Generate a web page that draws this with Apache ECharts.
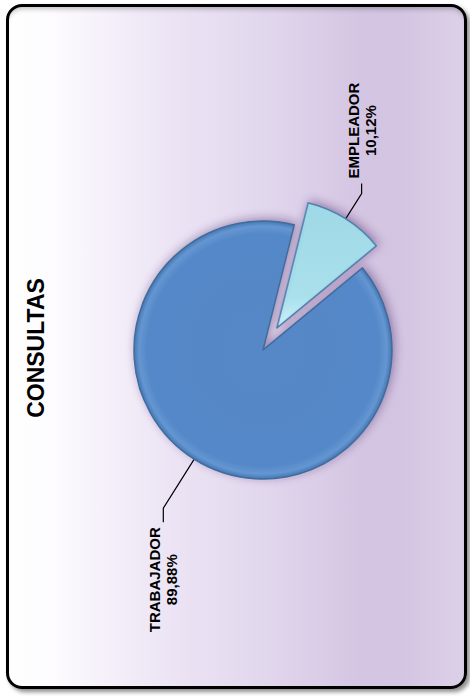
<!DOCTYPE html>
<html>
<head>
<meta charset="utf-8">
<script src="https://cdn.jsdelivr.net/npm/echarts@6/dist/echarts.min.js"></script>
<style>
html,body{margin:0;padding:0;width:470px;height:696px;overflow:hidden;background:#ffffff;}
#frame{position:absolute;left:6px;top:4px;width:455px;height:679px;border:3px solid #000;border-radius:16px;
background:linear-gradient(to right,#ffffff 0%,#fdfbfe 10%,#efe8f6 30%,#e2d8ee 55%,#d4c5e2 78%,#d3c4e1 85%,#dcd0e8 100%);
box-shadow:3px 3px 4px rgba(0,0,0,0.45), inset 0 5px 5px -3px rgba(0,0,0,0.25);}
#chart{position:absolute;left:0;top:0;width:696px;height:470px;transform-origin:0 0;transform:translateY(696px) rotate(-90deg);}
</style>
</head>
<body>
<div id="frame"></div>
<div id="chart"></div>
<script>
const chartTitle = 'CONSULTAS';
const categories = ['EMPLEADOR', 'TRABAJADOR'];
const values = [10.12, 89.88];

const styles = [
  {
    color: new echarts.graphic.LinearGradient(0, 0, 1, 0, [
      {offset: 0, color: '#cdf3fa'},
      {offset: 0.25, color: '#a9e0ec'},
      {offset: 1, color: '#9fd8e6'}
    ]),
    borderColor: '#4f7fae', borderWidth: 1.5,
    shadowBlur: 10, shadowColor: 'rgba(70,40,100,0.45)', shadowOffsetX: 2, shadowOffsetY: 2
  },
  {
    color: new echarts.graphic.RadialGradient(0.5, 0.5, 0.5, [
      {offset: 0, color: '#5687c6'},
      {offset: 0.9, color: '#5588c8'},
      {offset: 0.96, color: '#6496d2'},
      {offset: 1, color: '#4677b2'}
    ]),
    borderColor: '#3f6c9e', borderWidth: 1.5,
    shadowBlur: 10, shadowColor: 'rgba(70,40,100,0.45)', shadowOffsetX: 2, shadowOffsetY: 2
  }
];
const lineLens = [[30, 10], [58, 14]];

const data = categories.map((name, i) => ({
  name: name,
  value: values[i],
  selected: i === 0,
  itemStyle: styles[i],
  labelLine: {length: lineLens[i][0], length2: lineLens[i][1], lineStyle: {color: '#000', width: 1.2}}
}));

const chart = echarts.init(document.getElementById('chart'), null, {renderer: 'svg', width: 696, height: 470});
chart.setOption({
  animation: false,
  backgroundColor: 'transparent',
  title: {
    text: chartTitle,
    left: 'center',
    top: 19,
    textStyle: {fontFamily: 'Liberation Sans, Arial, sans-serif', fontSize: 23, fontWeight: 'bold', color: '#000'}
  },
  series: [{
    type: 'pie',
    center: [346, 263],
    radius: 129,
    startAngle: 346,
    clockwise: true,
    selectedMode: 'single',
    selectedOffset: 26,
    avoidLabelOverlap: false,
    data: data,
    select: {itemStyle: {}},
    emphasis: {disabled: true},
    label: {
      show: true,
      position: 'outside',
      distanceToLabelLine: 5,
      formatter: p => '{n|' + p.name + '}\n{n|' + p.value.toFixed(2).replace('.', ',') + '%}',
      rich: {
        n: {fontFamily: 'Liberation Sans, Arial, sans-serif', fontSize: 15, fontWeight: 'bold', color: '#000', lineHeight: 17, align: 'center'}
      }
    },
    labelLine: {show: true, smooth: false}
  }]
});
</script>
</body>
</html>
